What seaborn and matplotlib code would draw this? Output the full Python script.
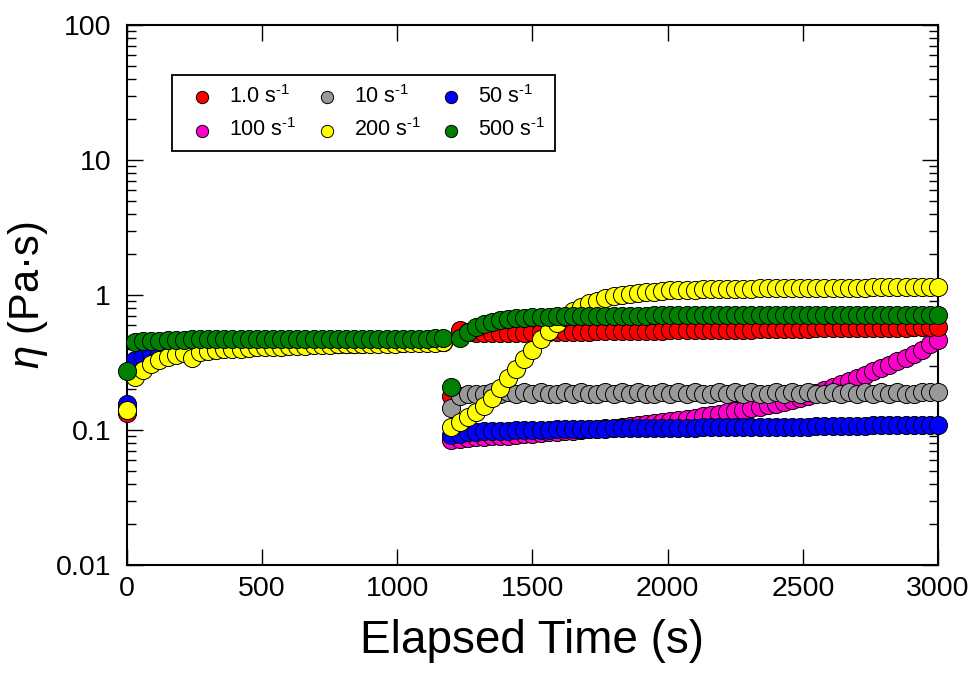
import matplotlib
matplotlib.use("Agg")
import matplotlib.pyplot as plt
import numpy as np
import pandas as pd
import seaborn as sns
from matplotlib.ticker import LogLocator, NullFormatter, FuncFormatter, NullLocator

# ---------------- data ----------------
t_phase1 = list(range(0, 1200, 30))      # 0 ... 1170 s
t_phase2 = list(range(1200, 3001, 30))   # 1200 ... 3000 s

red_p1 = [0.133, 0.32, 0.35, 0.365, 0.375, 0.385, 0.39, 0.395, 0.40, 0.40,
          0.405, 0.41, 0.41, 0.415, 0.415, 0.42, 0.42, 0.42, 0.425, 0.425,
          0.425, 0.43, 0.43, 0.43, 0.43, 0.435, 0.435, 0.435, 0.435, 0.44,
          0.44, 0.44, 0.44, 0.44, 0.445, 0.445, 0.445, 0.445, 0.45, 0.45]
gray_p1 = [0.145, 0.30, 0.33, 0.35, 0.36, 0.37, 0.38, 0.39, 0.395, 0.40,
           0.40, 0.405, 0.41, 0.41, 0.415, 0.415, 0.42, 0.42, 0.42, 0.425,
           0.425, 0.425, 0.43, 0.43, 0.43, 0.43, 0.435, 0.435, 0.435, 0.435,
           0.44, 0.44, 0.44, 0.44, 0.44, 0.445, 0.445, 0.445, 0.45, 0.45]
blue_p1 = [0.155, 0.33, 0.355, 0.37, 0.38, 0.39, 0.395, 0.40, 0.40, 0.405,
           0.41, 0.41, 0.415, 0.415, 0.42, 0.42, 0.42, 0.425, 0.425, 0.425,
           0.43, 0.43, 0.43, 0.43, 0.435, 0.435, 0.435, 0.435, 0.44, 0.44,
           0.44, 0.44, 0.44, 0.445, 0.445, 0.445, 0.445, 0.45, 0.45, 0.45]
magenta_p1 = [0.14, 0.31, 0.34, 0.36, 0.37, 0.38, 0.385, 0.39, 0.395, 0.40,
              0.40, 0.405, 0.41, 0.41, 0.415, 0.415, 0.42, 0.42, 0.42, 0.425,
              0.425, 0.425, 0.43, 0.43, 0.43, 0.43, 0.435, 0.435, 0.435, 0.435,
              0.44, 0.44, 0.44, 0.44, 0.44, 0.445, 0.445, 0.445, 0.45, 0.45]
yellow_p1 = [0.14, 0.245, 0.28, 0.31, 0.33, 0.35, 0.36, 0.37, 0.34, 0.38,
             0.385, 0.39, 0.395, 0.40, 0.40, 0.405, 0.41, 0.41, 0.415, 0.415,
             0.42, 0.42, 0.42, 0.425, 0.425, 0.425, 0.43, 0.43, 0.43, 0.43,
             0.435, 0.435, 0.435, 0.435, 0.44, 0.44, 0.44, 0.44, 0.44, 0.445]
green_p1 = [0.275, 0.45, 0.455, 0.46, 0.46, 0.465, 0.465, 0.465, 0.47, 0.47,
            0.47, 0.47, 0.47, 0.47, 0.47, 0.47, 0.47, 0.47, 0.47, 0.47,
            0.47, 0.47, 0.47, 0.47, 0.47, 0.47, 0.47, 0.47, 0.47, 0.47,
            0.47, 0.47, 0.47, 0.47, 0.47, 0.475, 0.475, 0.475, 0.48, 0.48]

red_p2 = [0.18, 0.55, 0.53, 0.52, 0.52, 0.52, 0.52, 0.525, 0.525, 0.525,
          0.53, 0.53, 0.53, 0.53, 0.535, 0.535, 0.535, 0.535, 0.54, 0.54,
          0.54, 0.54, 0.54, 0.545, 0.545, 0.545, 0.545, 0.55, 0.55, 0.55,
          0.55, 0.55, 0.55, 0.555, 0.555, 0.555, 0.555, 0.555, 0.56, 0.56,
          0.56, 0.56, 0.56, 0.56, 0.56, 0.565, 0.565, 0.565, 0.565, 0.565,
          0.565, 0.57, 0.57, 0.57, 0.57, 0.57, 0.57, 0.575, 0.575, 0.575,
          0.575]
gray_p2 = [0.145, 0.18, 0.185, 0.185, 0.185, 0.19, 0.185, 0.19, 0.185, 0.19,
           0.185, 0.19, 0.185, 0.185, 0.19, 0.185, 0.19, 0.185, 0.185, 0.19,
           0.185, 0.19, 0.185, 0.19, 0.185, 0.185, 0.19, 0.185, 0.19, 0.185,
           0.19, 0.185, 0.185, 0.19, 0.185, 0.19, 0.185, 0.19, 0.185, 0.185,
           0.19, 0.185, 0.19, 0.185, 0.19, 0.185, 0.185, 0.19, 0.185, 0.19,
           0.185, 0.19, 0.185, 0.19, 0.185, 0.19, 0.185, 0.185, 0.19, 0.19,
           0.19]
blue_p2 = [0.092, 0.094, 0.096, 0.097, 0.098, 0.098, 0.099, 0.099, 0.10, 0.10,
           0.10, 0.10, 0.10, 0.101, 0.101, 0.101, 0.102, 0.102, 0.102, 0.102,
           0.103, 0.103, 0.103, 0.103, 0.103, 0.104, 0.104, 0.104, 0.104, 0.104,
           0.104, 0.105, 0.105, 0.105, 0.105, 0.105, 0.105, 0.105, 0.106, 0.106,
           0.106, 0.106, 0.106, 0.106, 0.106, 0.107, 0.107, 0.107, 0.107, 0.107,
           0.107, 0.107, 0.108, 0.108, 0.108, 0.108, 0.108, 0.108, 0.108, 0.108,
           0.108]
magenta_p2 = [0.085, 0.086, 0.087, 0.088, 0.089, 0.09, 0.09, 0.091, 0.092, 0.093,
              0.094, 0.095, 0.096, 0.097, 0.098, 0.099, 0.10, 0.101, 0.102, 0.103,
              0.104, 0.106, 0.107, 0.109, 0.110, 0.112, 0.114, 0.116, 0.118, 0.120,
              0.123, 0.126, 0.129, 0.132, 0.135, 0.138, 0.141, 0.145, 0.149, 0.153,
              0.157, 0.162, 0.167, 0.173, 0.180, 0.188, 0.197, 0.207, 0.218, 0.230,
              0.243, 0.257, 0.272, 0.288, 0.305, 0.323, 0.342, 0.365, 0.39, 0.43,
              0.465]
yellow_p2 = [0.105, 0.115, 0.125, 0.137, 0.15, 0.172, 0.205, 0.243, 0.285, 0.335,
             0.39, 0.47, 0.54, 0.62, 0.69, 0.76, 0.82, 0.87, 0.91, 0.95,
             0.98, 1.0, 1.02, 1.04, 1.05, 1.06, 1.07, 1.08, 1.085, 1.09,
             1.095, 1.10, 1.10, 1.105, 1.11, 1.11, 1.115, 1.115, 1.12, 1.12,
             1.12, 1.125, 1.125, 1.125, 1.13, 1.13, 1.13, 1.13, 1.135, 1.135,
             1.135, 1.135, 1.14, 1.14, 1.14, 1.14, 1.14, 1.145, 1.145, 1.145,
             1.15]
green_p2 = [0.21, 0.48, 0.53, 0.58, 0.61, 0.63, 0.65, 0.66, 0.67, 0.68,
            0.685, 0.69, 0.69, 0.695, 0.695, 0.70, 0.70, 0.70, 0.70, 0.70,
            0.70, 0.70, 0.70, 0.70, 0.70, 0.705, 0.705, 0.705, 0.705, 0.705,
            0.705, 0.705, 0.705, 0.705, 0.705, 0.705, 0.71, 0.71, 0.71, 0.71,
            0.71, 0.71, 0.71, 0.71, 0.71, 0.71, 0.71, 0.71, 0.71, 0.71,
            0.71, 0.71, 0.71, 0.71, 0.71, 0.71, 0.71, 0.71, 0.71, 0.71,
            0.71]

rate_labels = [r"1.0 s$^{\text{-1}}$", r"10 s$^{\text{-1}}$", r"50 s$^{\text{-1}}$",
               r"100 s$^{\text{-1}}$", r"200 s$^{\text{-1}}$", r"500 s$^{\text{-1}}$"]
rate_colors = ["#FF0000", "#999999", "#0000FF", "#FF00CC", "#FFFF00", "#008000"]
phase1 = [red_p1, gray_p1, blue_p1, magenta_p1, yellow_p1, green_p1]
phase2 = [red_p2, gray_p2, blue_p2, magenta_p2, yellow_p2, green_p2]

x_ticks = [0, 500, 1000, 1500, 2000, 2500, 3000]
y_ticks = [0.01, 0.1, 1, 10, 100]

frames = []
for lab, p1, p2 in zip(rate_labels, phase1, phase2):
    frames.append(pd.DataFrame({"time": t_phase1 + t_phase2,
                                "eta": p1 + p2,
                                "rate": lab}))
df = pd.concat(frames, ignore_index=True)

# ---------------- style ----------------
sns.set_style("ticks")
plt.rcParams["font.family"] = ["Liberation Sans", "DejaVu Sans"]
plt.rcParams["mathtext.fontset"] = "custom"
plt.rcParams["mathtext.rm"] = "Liberation Sans"
plt.rcParams["mathtext.it"] = "Liberation Sans:italic"
plt.rcParams["mathtext.default"] = "regular"
for key in ["text.color", "axes.labelcolor", "xtick.color", "ytick.color",
            "axes.edgecolor"]:
    plt.rcParams[key] = "black"

fig = plt.figure(figsize=(9.75, 6.74), dpi=100)
ax = fig.add_axes([127 / 975, 1 - 565 / 674, 811 / 975, 540 / 674])

draw_order = [3, 0, 1, 2, 4, 5]  # magenta, red, gray, blue, yellow, green
handles = {}
for i in draw_order:
    lab = rate_labels[i]
    sub = df[df["rate"] == lab]
    n_before = len(ax.collections)
    sns.scatterplot(data=sub, x="time", y="eta", color=rate_colors[i], s=170,
                    edgecolor="black", linewidth=0.7, ax=ax, legend=False,
                    clip_on=False, zorder=3)
    coll = ax.collections[n_before]
    coll.set_label(lab)
    handles[i] = coll

ax.set_yscale("log")
ax.set_xlim(0, 3000)
ax.set_ylim(0.01, 100)
ax.set_xticks(x_ticks)
ax.set_yticks(y_ticks)
ax.yaxis.set_major_formatter(FuncFormatter(lambda v, p: f"{v:g}"))
ax.yaxis.set_minor_locator(LogLocator(base=10, subs=np.arange(2, 10)))
ax.yaxis.set_minor_formatter(NullFormatter())
ax.xaxis.set_minor_locator(NullLocator())

for sp in ax.spines.values():
    sp.set_linewidth(1.5)
    sp.set_color("black")
ax.tick_params(which="both", direction="in", top=True, right=True,
               color="black", width=1.0)
ax.tick_params(which="major", length=11.5, labelsize=20.5, pad=8)
ax.tick_params(axis="y", which="major", pad=11.5)
ax.tick_params(which="minor", length=6.5)

ax.set_xlabel("Elapsed Time (s)", fontsize=33, labelpad=12)
ax.set_ylabel(r"$\it{\eta}$ (Pa·s)", fontsize=30, labelpad=4)

leg_order = [0, 3, 1, 4, 2, 5]
leg = ax.legend([handles[i] for i in leg_order], [rate_labels[i] for i in leg_order],
                ncol=3, loc="upper left", bbox_to_anchor=(45 / 811, 490 / 540),
                borderaxespad=0, fontsize=15.5, markerscale=0.68, frameon=True,
                fancybox=False, edgecolor="black", framealpha=1,
                handlelength=1.9, handletextpad=0.3, columnspacing=0.45,
                borderpad=0.45, labelspacing=0.5, scatterpoints=1)
leg.get_frame().set_linewidth(1.3)
leg.set_zorder(5)

fig.savefig("out.png", dpi=100)
